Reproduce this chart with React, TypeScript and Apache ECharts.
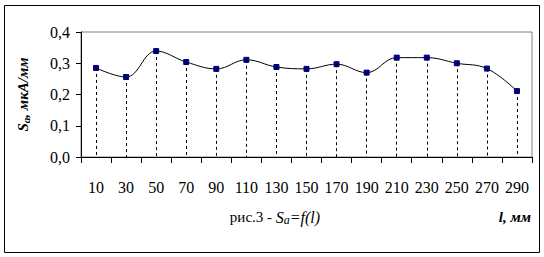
import React, { useEffect, useRef } from "react";
import * as echarts from "echarts";

const categories = ["10", "30", "50", "70", "90", "110", "130", "150", "170", "190", "210", "230", "250", "270", "290"];
const values = [0.285, 0.256, 0.339, 0.304, 0.282, 0.311, 0.288, 0.282, 0.297, 0.27, 0.318, 0.318, 0.3, 0.283, 0.211];
const yTicks = { min: 0, max: 0.4, interval: 0.1 };

const SERIF = "Liberation Serif";

export default function App() {
  const ref = useRef<HTMLDivElement>(null);
  useEffect(() => {
    if (!ref.current) return;
    const chart = echarts.init(ref.current, null, { renderer: "svg" });
    chart.setOption({
      animation: false,
      backgroundColor: "#ffffff",
      textStyle: { fontFamily: SERIF },
      grid: {
        left: 81,
        top: 32,
        right: 12,
        bottom: 100,
        show: true,
        borderColor: "#808080",
        borderWidth: 1,
        containLabel: false,
        outerBoundsMode: "none",
      },
      xAxis: {
        type: "category",
        data: categories,
        boundaryGap: true,
        axisLine: { lineStyle: { color: "#000", width: 1 } },
        axisTick: { show: true, length: 6, lineStyle: { color: "#000" } },
        axisLabel: { color: "#000", fontFamily: SERIF, fontSize: 16, margin: 22, interval: 0 },
        splitLine: { show: false },
      },
      yAxis: {
        type: "value",
        min: yTicks.min,
        max: yTicks.max,
        interval: yTicks.interval,
        axisLine: { show: true, lineStyle: { color: "#000", width: 1 } },
        axisTick: { show: true, length: 5, lineStyle: { color: "#000" } },
        axisLabel: {
          color: "#000",
          fontFamily: SERIF,
          fontSize: 16,
          margin: 11,
          formatter: (v: number) => v.toFixed(1).replace(".", ","),
        },
        splitLine: { show: false },
        name: "{b|S}{sub|a}{b|, мкА/мм}",
        nameLocation: "middle",
        nameGap: 50,
        nameRotate: 90,
        nameTextStyle: {
          fontFamily: SERIF,
          rich: {
            b: { fontFamily: SERIF, fontSize: 15, fontWeight: "bold", fontStyle: "italic", color: "#000" },
            sub: { fontFamily: SERIF, fontSize: 11, fontWeight: "bold", fontStyle: "italic", color: "#000", padding: [6, 0, 0, 0] },
          },
        },
      },
      series: [
        {
          type: "line",
          data: values,
          smooth: 0.4,
          symbol: "rect",
          symbolSize: 5,
          itemStyle: { color: "#000080", borderColor: "#000080" },
          lineStyle: { color: "#000", width: 1 },
          z: 3,
          markLine: {
            silent: true,
            symbol: ["none", "none"],
            label: { show: false },
            lineStyle: { color: "#000", width: 1, type: [3, 3] },
            data: values.map((v, i) => [{ coord: [i, v] }, { coord: [i, 0] }]),
          },
        },
      ],
      graphic: [
        {
          type: "rect",
          shape: { x: 4.5, y: 5.5, width: 535, height: 247 },
          style: { fill: "none", stroke: "#000", lineWidth: 1 },
          silent: true,
        },
        {
          type: "text",
          x: 275,
          y: 217,
          style: {
            text: "{n|рис.3 - }{i|S}{isub|a}{i|=f(l)}",
            align: "center",
            verticalAlign: "middle",
            fontFamily: SERIF,
            rich: {
              n: { fontFamily: SERIF, fontSize: 15, fill: "#000" },
              i: { fontFamily: SERIF, fontSize: 16, fontStyle: "italic", fill: "#000" },
              isub: { fontFamily: SERIF, fontSize: 12, fontStyle: "italic", fill: "#000", padding: [6, 0, 0, 0] },
            },
          },
        },
        {
          type: "text",
          x: 531,
          y: 217,
          style: {
            text: "l, мм",
            align: "right",
            verticalAlign: "middle",
            fontFamily: SERIF,
            fontSize: 15,
            fontWeight: "bold",
            fontStyle: "italic",
            fill: "#000",
          },
        },
      ],
    });
    return () => chart.dispose();
  }, []);
  return <div ref={ref} style={{ position: "absolute", left: 0, top: 0, width: 544, height: 257 }} />;
}
